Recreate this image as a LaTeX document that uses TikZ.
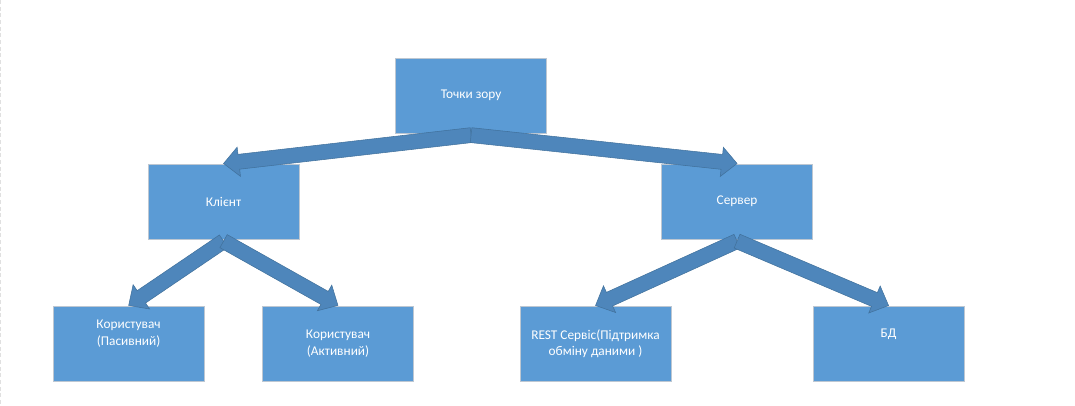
\documentclass[tikz,border=0pt]{standalone}
\usepackage{fontspec}
\setmainfont{Carlito}
\usetikzlibrary{calc}
\definecolor{boxfill}{HTML}{5B9BD5}
\definecolor{boxline}{HTML}{BDC7D2}
\definecolor{arrfill}{HTML}{4E86BB}
\definecolor{arrline}{HTML}{41719C}
\tikzset{
  box/.style={draw=boxline, line width=0.6pt, fill=boxfill, minimum width=113.5pt, minimum height=56.5pt,
    inner sep=0pt, text=white, font=\fontsize{10}{12.4}\selectfont, align=center, anchor=north west},
  blockarr/.style={fill=arrfill, draw=arrline, line width=0.4pt, line join=miter},
}
\newcommand{\blockarrow}[2]{%
  \draw[blockarr] let \p1=(#1), \p2=(#2), \n1={atan2(\y2-\y1,\x2-\x1)}, \n2={veclen(\x2-\x1,\y2-\y1)} in
    [shift={(\p1)}, rotate=\n1]
    (0pt,-5.6pt) -- (\n2-11.5pt,-5.6pt) -- (\n2-11.5pt,-11pt) -- (\n2,0pt) -- (\n2-11.5pt,11pt) -- (\n2-11.5pt,5.6pt) -- (0pt,5.6pt) -- cycle;}
\begin{document}
\begin{tikzpicture}[x=0.75pt,y=-0.75pt]
\useasboundingbox (0,0) rectangle (1075,405);
\draw[densely dashed, draw=black!12, line width=0.8pt] (0.6,0) -- (0.6,405);
\node[box] (top) at (395,57.5) {Точки зору};
\node[box] (client) at (147.5,163.5) {Клієнт};
\node[box] (server) at (661,163.5) {Сервер};
\node[box, text depth=16pt] (passive) at (52.5,305.5) {Користувач\\(Пасивний)};
\node[box] (active) at (262,305.5) {Користувач\\(Активний)};
\node[box] (rest) at (519.5,305.5) {REST Сервіс(Підтримка\\обміну даними )};
\node[box, text depth=16pt] (db) at (812.5,305.5) {БД};
\coordinate (topout) at ($(top.south)+(0,1.5)$);
\coordinate (clientout) at ($(client.south)+(0,1.5)$);
\coordinate (serverout) at ($(server.south)+(0,1.5)$);
\blockarrow{topout}{client.north}
\blockarrow{topout}{server.north}
\blockarrow{clientout}{passive.north}
\blockarrow{clientout}{active.north}
\blockarrow{serverout}{rest.north}
\blockarrow{serverout}{db.north}
\end{tikzpicture}
\end{document}
